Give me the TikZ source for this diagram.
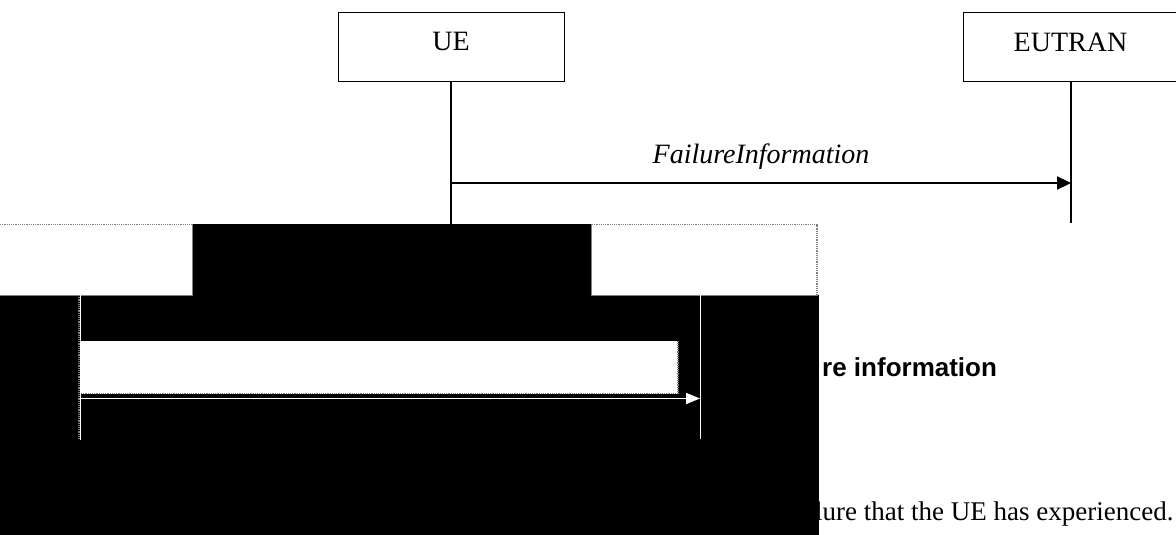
\documentclass[tikz,border=0pt]{standalone}
\usepackage{fontspec}
\setmainfont{Liberation Serif}
\setsansfont{Liberation Sans}
\usetikzlibrary{arrows.meta}

\tikzset{
  entity/.style={draw, line width=0.9pt, minimum width=226pt, minimum height=69pt, inner sep=0pt,
    text depth=10pt, font=\fontsize{28}{30}\selectfont},
  lifeline/.style={line width=1.2pt},
  msg/.style={line width=2.2pt, -{Triangle[length=14pt,width=13pt]}},
  ghost/.style={white, line width=1.6pt},
  ticks/.style={gray, densely dotted, line width=1.2pt}
}

\begin{document}
\begin{tikzpicture}[x=1pt, y=-1pt]
  \useasboundingbox (0,0) rectangle (1176,535);

  % Sequence
  \node[entity] (ue) at (451,46.5) {UE};
  \node[entity, minimum width=214pt, anchor=north west] (eutran) at (963,12) {EUTRAN};
  \coordinate (ueend) at (451,224);
  \coordinate (eutranend) at (1071,223);
  \coordinate (uemsg) at (451,183);
  \coordinate (eutranmsg) at (1071,183);
  \draw[lifeline] (ue.south) -- (ueend);
  \draw[lifeline] (eutran.south -| eutranend) -- (eutranend);
  \draw[msg] (uemsg) -- (eutranmsg)
    node[midway, above=9pt, font=\itshape\fontsize{28}{30}\selectfont] (msglabel) {FailureInformation};

  % Page text
  \node[anchor=base west, inner sep=0pt, font=\sffamily\bfseries\fontsize{26}{30}\selectfont] (heading) at (822,376) {re information};
  \node[anchor=base west, inner sep=0pt, font=\fontsize{27}{30}\selectfont] (para) at (815,520) {lure that the UE has experienced.};

  % Inverted copy
  \fill[black] (0,295) rectangle (818.5,535);
  \fill[black] (192.5,224) rectangle (591.5,295);
  \draw[gray, line width=0.8pt] (0,295) -- (192.5,295) -- (192.5,224);
  \draw[gray, line width=0.8pt] (591.5,224) -- (591.5,295) -- (817.5,295);
  \draw[ticks] (0,224.5) -- (192,224.5);
  \draw[ticks] (592,224.5) -- (817,224.5) -- (817,295);
  \fill[white] (81,341) rectangle (678,394);
  \draw[ticks] (81,393.5) -- (678,393.5) -- (678,341);
  \coordinate (leftgo) at (80.5,295);
  \coordinate (leftend) at (80.5,440);
  \coordinate (rightgo) at (700.5,295);
  \coordinate (rightend) at (700.5,439);
  \draw[ghost] (leftgo) -- (leftend);
  \draw[ticks] (79,295) -- (79,440);
  \draw[ghost] (rightgo) -- (rightend);
  \coordinate (leftmsg) at (80.5,398.5);
  \coordinate (rightmsg) at (700,398.5);
  \draw[ghost, -{Triangle[length=14pt,width=11pt]}] (leftmsg) -- (rightmsg);
\end{tikzpicture}
\end{document}
